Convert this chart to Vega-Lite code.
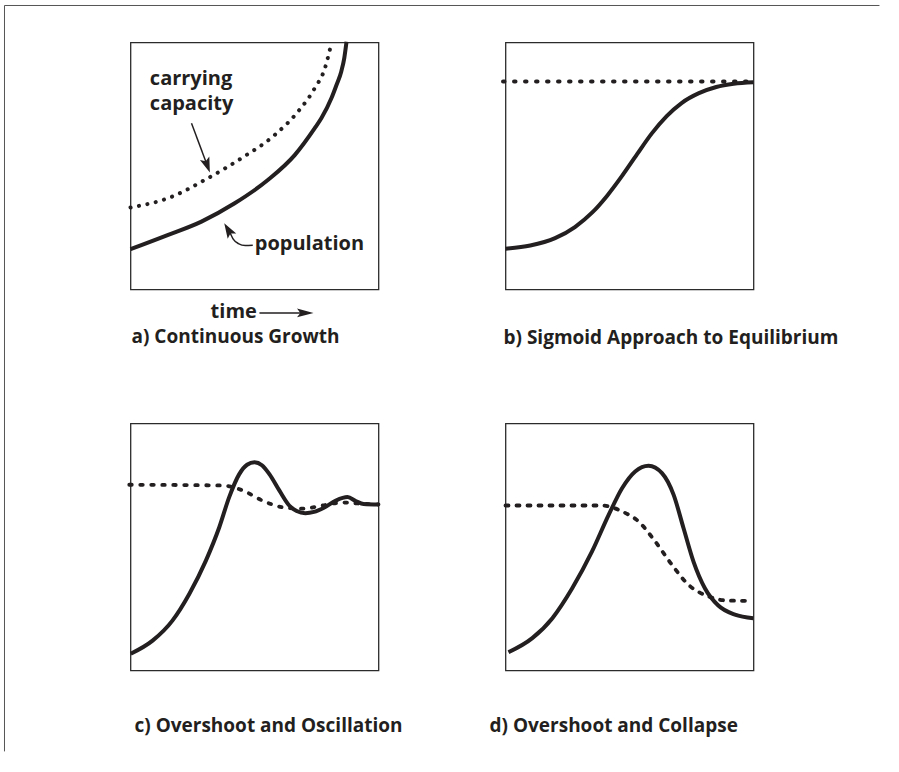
{
  "$schema": "https://vega.github.io/schema/vega-lite/v6.json",
  "autosize": {"type": "pad"},
  "padding": {"left": 2.5, "top": 3.5, "right": 0, "bottom": 0},
  "background": "white",
  "config": {
    "view": {"stroke": "#2b2b2b", "strokeWidth": 1.3},
    "font": "Open Sans",
    "title": {"font": "Open Sans", "fontWeight": "bold", "fontSize": 19, "color": "#231f20", "orient": "bottom", "anchor": "start", "frame": "group"},
    "text": {"font": "Open Sans", "fontWeight": "bold", "fontSize": 20, "color": "#231f20", "align": "left", "baseline": "alphabetic"},
    "line": {"color": "#231f20"},
    "rule": {"color": "#231f20"}
  },
  "datasets": {
    "one": [{}],
    "a_pop": [
      {"t": 0, "v": 16.3}, {"t": 15.2, "v": 22.1}, {"t": 28.6, "v": 27.5}, {"t": 42, "v": 34.9},
      {"t": 55.5, "v": 44.4}, {"t": 66.3, "v": 54.5}, {"t": 74.3, "v": 65.3}, {"t": 77, "v": 69.4},
      {"t": 81, "v": 77.4}, {"t": 83.1, "v": 82.9}, {"t": 85, "v": 88.3}, {"t": 86.2, "v": 93.7}, {"t": 87.1, "v": 100.3}
    ],
    "a_cap": [
      {"t": 0, "v": 33.2}, {"t": 15.2, "v": 37}, {"t": 31.3, "v": 45.1}, {"t": 44.8, "v": 53.2},
      {"t": 58.2, "v": 62.6}, {"t": 67.6, "v": 72.1}, {"t": 74.3, "v": 81.5}, {"t": 78.4, "v": 89.6}, {"t": 81, "v": 99.7}
    ],
    "a_tail": [
      {"t": 40.1, "v": 23.1}, {"t": 41.5, "v": 20.3}, {"t": 43.5, "v": 18.6}, {"t": 46.3, "v": 17.8}, {"t": 49.3, "v": 17.9}
    ],
    "b_pop": [
      {"t": 0, "v": 16.5}, {"t": 10, "v": 17.8}, {"t": 20, "v": 20.8}, {"t": 28, "v": 25.3},
      {"t": 35, "v": 31.2}, {"t": 41, "v": 38}, {"t": 47, "v": 46}, {"t": 53, "v": 54.7},
      {"t": 59, "v": 63.2}, {"t": 65, "v": 70.2}, {"t": 71, "v": 75.5}, {"t": 78, "v": 79.5},
      {"t": 85, "v": 82}, {"t": 92, "v": 83.3}, {"t": 100, "v": 83.9}
    ],
    "b_cap": [
      {"t": -1, "v": 84.2}, {"t": 100, "v": 84.2}
    ],
    "c_pop": [
      {"t": 0.1, "v": 6.8}, {"t": 8.9, "v": 12.1}, {"t": 16.9, "v": 20.2}, {"t": 23.7, "v": 31},
      {"t": 30.4, "v": 44.5}, {"t": 35.8, "v": 58}, {"t": 39.8, "v": 70.2}, {"t": 43.8, "v": 79.4},
      {"t": 47, "v": 83.3}, {"t": 50, "v": 84.3}, {"t": 53, "v": 83.1}, {"t": 56, "v": 79.5},
      {"t": 60, "v": 72.9}, {"t": 64, "v": 66.8}, {"t": 67, "v": 64.6}, {"t": 70.5, "v": 63.7},
      {"t": 74, "v": 64.2}, {"t": 78, "v": 65.9}, {"t": 82.8, "v": 68.8}, {"t": 87.5, "v": 70.2},
      {"t": 91, "v": 68.5}, {"t": 94, "v": 67.4}, {"t": 100, "v": 67.2}
    ],
    "c_cap": [
      {"t": -0.5, "v": 75.2}, {"t": 37.1, "v": 74.9}, {"t": 45.2, "v": 72.9}, {"t": 53.2, "v": 68.8},
      {"t": 61.3, "v": 66.1}, {"t": 69.4, "v": 65.5}, {"t": 77.4, "v": 66.8}, {"t": 85.5, "v": 68},
      {"t": 93.5, "v": 67.5}, {"t": 100, "v": 67.2}
    ],
    "d_pop": [
      {"t": 1.2, "v": 7.4}, {"t": 10.8, "v": 13.1}, {"t": 18.9, "v": 21.2}, {"t": 26.9, "v": 33.3},
      {"t": 34.9, "v": 48.2}, {"t": 41.6, "v": 63}, {"t": 47, "v": 73.8}, {"t": 52.3, "v": 80.6},
      {"t": 57.7, "v": 82.9}, {"t": 63.1, "v": 79.9}, {"t": 67.8, "v": 71.1}, {"t": 71.8, "v": 57.6},
      {"t": 75.8, "v": 44.1}, {"t": 80.4, "v": 33.3}, {"t": 85.8, "v": 26.3}, {"t": 92.5, "v": 22.6}, {"t": 99.9, "v": 21.2}
    ],
    "d_cap": [
      {"t": 0, "v": 66.8}, {"t": 39, "v": 66.8}, {"t": 47, "v": 64.4}, {"t": 53.7, "v": 60.3},
      {"t": 60.4, "v": 52.2}, {"t": 67.1, "v": 42.8}, {"t": 73.8, "v": 34.7}, {"t": 81.8, "v": 30},
      {"t": 89.8, "v": 28.3}, {"t": 99.2, "v": 28.2}
    ]
  },
  "columns": 2,
  "bounds": "flush",
  "spacing": {"row": 134, "column": 127},
  "concat": [
    {
      "width": 248, "height": 247,
      "layer": [
        {
          "data": {"name": "one"},
          "mark": {"type": "rule", "color": "#555555", "strokeWidth": 1},
          "encoding": {
            "x": {"datum": -50.81, "scale": {"domain": [0, 100]}, "axis": null},
            "y": {"datum": 114.98, "scale": {"domain": [0, 100]}, "axis": null},
            "y2": {"datum": -187}
          }
        },
        {
          "data": {"name": "one"},
          "mark": {"type": "rule", "color": "#555555", "strokeWidth": 1},
          "encoding": {
            "x": {"datum": -50.81, "scale": {"domain": [0, 100]}, "axis": null},
            "x2": {"datum": 302},
            "y": {"datum": 114.98, "scale": {"domain": [0, 100]}, "axis": null}
          }
        },
        {
          "data": {"name": "a_cap"},
          "mark": {"type": "line", "interpolate": "monotone", "strokeWidth": 4, "strokeCap": "round", "strokeDash": [0.1, 8.5]},
          "encoding": {
            "x": {"field": "t", "type": "quantitative", "scale": {"domain": [0, 100]}, "axis": null},
            "y": {"field": "v", "type": "quantitative", "scale": {"domain": [0, 100]}, "axis": null}
          }
        },
        {
          "data": {"name": "a_pop"},
          "mark": {"type": "line", "interpolate": "monotone", "strokeWidth": 4},
          "encoding": {
            "x": {"field": "t", "type": "quantitative", "scale": {"domain": [0, 100]}, "axis": null},
            "y": {"field": "v", "type": "quantitative", "scale": {"domain": [0, 100]}, "axis": null}
          }
        },
        {
          "data": {"name": "a_tail"},
          "mark": {"type": "line", "interpolate": "monotone", "strokeWidth": 1.5},
          "encoding": {
            "x": {"field": "t", "type": "quantitative", "scale": {"domain": [0, 100]}, "axis": null},
            "y": {"field": "v", "type": "quantitative", "scale": {"domain": [0, 100]}, "axis": null}
          }
        },
        {
          "data": {"name": "one"},
          "mark": {"type": "point", "shape": "M0,0 L-3,-1 L-2.4,0 L-3,1 Z", "size": 100, "filled": true, "color": "#231f20", "opacity": 1, "angle": 239},
          "encoding": {
            "x": {"datum": 37.8, "scale": {"domain": [0, 100]}, "axis": null},
            "y": {"datum": 26.8, "scale": {"domain": [0, 100]}, "axis": null}
          }
        },
        {
          "data": {"name": "one"},
          "mark": {"type": "rule", "strokeWidth": 1.5},
          "encoding": {
            "x": {"datum": 24.6, "scale": {"domain": [0, 100]}, "axis": null},
            "x2": {"datum": 31.3},
            "y": {"datum": 67.3, "scale": {"domain": [0, 100]}, "axis": null},
            "y2": {"datum": 49.3}
          }
        },
        {
          "data": {"name": "one"},
          "mark": {"type": "point", "shape": "M0,0 L-3,-1 L-2.4,0 L-3,1 Z", "size": 100, "filled": true, "color": "#231f20", "opacity": 1, "angle": 69.6},
          "encoding": {
            "x": {"datum": 32, "scale": {"domain": [0, 100]}, "axis": null},
            "y": {"datum": 47.4, "scale": {"domain": [0, 100]}, "axis": null}
          }
        },
        {
          "data": {"name": "one"},
          "mark": {"type": "rule", "strokeWidth": 1.5},
          "encoding": {
            "x": {"datum": 52, "scale": {"domain": [0, 100]}, "axis": null},
            "x2": {"datum": 71},
            "y": {"datum": -9.5, "scale": {"domain": [0, 100]}, "axis": null}
          }
        },
        {
          "data": {"name": "one"},
          "mark": {"type": "point", "shape": "M0,0 L-3,-0.8 L-2.4,0 L-3,0.8 Z", "size": 121, "filled": true, "color": "#231f20", "opacity": 1},
          "encoding": {
            "x": {"datum": 73.8, "scale": {"domain": [0, 100]}, "axis": null},
            "y": {"datum": -9.5, "scale": {"domain": [0, 100]}, "axis": null}
          }
        },
        {
          "data": {"name": "one"},
          "mark": {"type": "text", "text": "time"},
          "encoding": {
            "x": {"datum": 32.3, "scale": {"domain": [0, 100]}, "axis": null},
            "y": {"datum": -11.7, "scale": {"domain": [0, 100]}, "axis": null}
          }
        },
        {
          "data": {"name": "one"},
          "mark": {"type": "text", "text": "a) Continuous Growth", "fontSize": 19},
          "encoding": {
            "x": {"datum": 0.4, "scale": {"domain": [0, 100]}, "axis": null},
            "y": {"datum": -21.5, "scale": {"domain": [0, 100]}, "axis": null}
          }
        },
        {
          "data": {"name": "one"},
          "mark": {"type": "text", "text": "carrying"},
          "encoding": {
            "x": {"datum": 7.8, "scale": {"domain": [0, 100]}, "axis": null},
            "y": {"datum": 82.9, "scale": {"domain": [0, 100]}, "axis": null}
          }
        },
        {
          "data": {"name": "one"},
          "mark": {"type": "text", "text": "capacity"},
          "encoding": {
            "x": {"datum": 7.8, "scale": {"domain": [0, 100]}, "axis": null},
            "y": {"datum": 72.5, "scale": {"domain": [0, 100]}, "axis": null}
          }
        },
        {
          "data": {"name": "one"},
          "mark": {"type": "text", "text": "population"},
          "encoding": {
            "x": {"datum": 50.1, "scale": {"domain": [0, 100]}, "axis": null},
            "y": {"datum": 16.1, "scale": {"domain": [0, 100]}, "axis": null}
          }
        }
      ]
    },
    {
      "width": 248, "height": 247,
      "title": {"text": "b) Sigmoid Approach to Equilibrium", "offset": 39, "dx": -2},
      "layer": [
        {
          "data": {"name": "b_cap"},
          "mark": {"type": "line", "strokeWidth": 4, "strokeCap": "round", "strokeDash": [1.5, 9.5]},
          "encoding": {
            "x": {"field": "t", "type": "quantitative", "scale": {"domain": [0, 100]}, "axis": null},
            "y": {"field": "v", "type": "quantitative", "scale": {"domain": [0, 100]}, "axis": null}
          }
        },
        {
          "data": {"name": "b_pop"},
          "mark": {"type": "line", "interpolate": "monotone", "strokeWidth": 4},
          "encoding": {
            "x": {"field": "t", "type": "quantitative", "scale": {"domain": [0, 100]}, "axis": null},
            "y": {"field": "v", "type": "quantitative", "scale": {"domain": [0, 100]}, "axis": null}
          }
        }
      ]
    },
    {
      "width": 248, "height": 247,
      "title": {"text": "c) Overshoot and Oscillation", "offset": 46, "dx": 4},
      "layer": [
        {
          "data": {"name": "c_cap"},
          "mark": {"type": "line", "interpolate": "monotone", "strokeWidth": 3.8, "strokeCap": "round", "strokeDash": [2.5, 8.5]},
          "encoding": {
            "x": {"field": "t", "type": "quantitative", "scale": {"domain": [0, 100]}, "axis": null},
            "y": {"field": "v", "type": "quantitative", "scale": {"domain": [0, 100]}, "axis": null}
          }
        },
        {
          "data": {"name": "c_pop"},
          "mark": {"type": "line", "interpolate": "monotone", "strokeWidth": 4},
          "encoding": {
            "x": {"field": "t", "type": "quantitative", "scale": {"domain": [0, 100]}, "axis": null},
            "y": {"field": "v", "type": "quantitative", "scale": {"domain": [0, 100]}, "axis": null}
          }
        }
      ]
    },
    {
      "width": 248, "height": 247,
      "title": {"text": "d) Overshoot and Collapse", "offset": 46, "dx": -16},
      "layer": [
        {
          "data": {"name": "d_cap"},
          "mark": {"type": "line", "interpolate": "monotone", "strokeWidth": 3.8, "strokeCap": "round", "strokeDash": [3, 8]},
          "encoding": {
            "x": {"field": "t", "type": "quantitative", "scale": {"domain": [0, 100]}, "axis": null},
            "y": {"field": "v", "type": "quantitative", "scale": {"domain": [0, 100]}, "axis": null}
          }
        },
        {
          "data": {"name": "d_pop"},
          "mark": {"type": "line", "interpolate": "monotone", "strokeWidth": 4},
          "encoding": {
            "x": {"field": "t", "type": "quantitative", "scale": {"domain": [0, 100]}, "axis": null},
            "y": {"field": "v", "type": "quantitative", "scale": {"domain": [0, 100]}, "axis": null}
          }
        }
      ]
    }
  ]
}
